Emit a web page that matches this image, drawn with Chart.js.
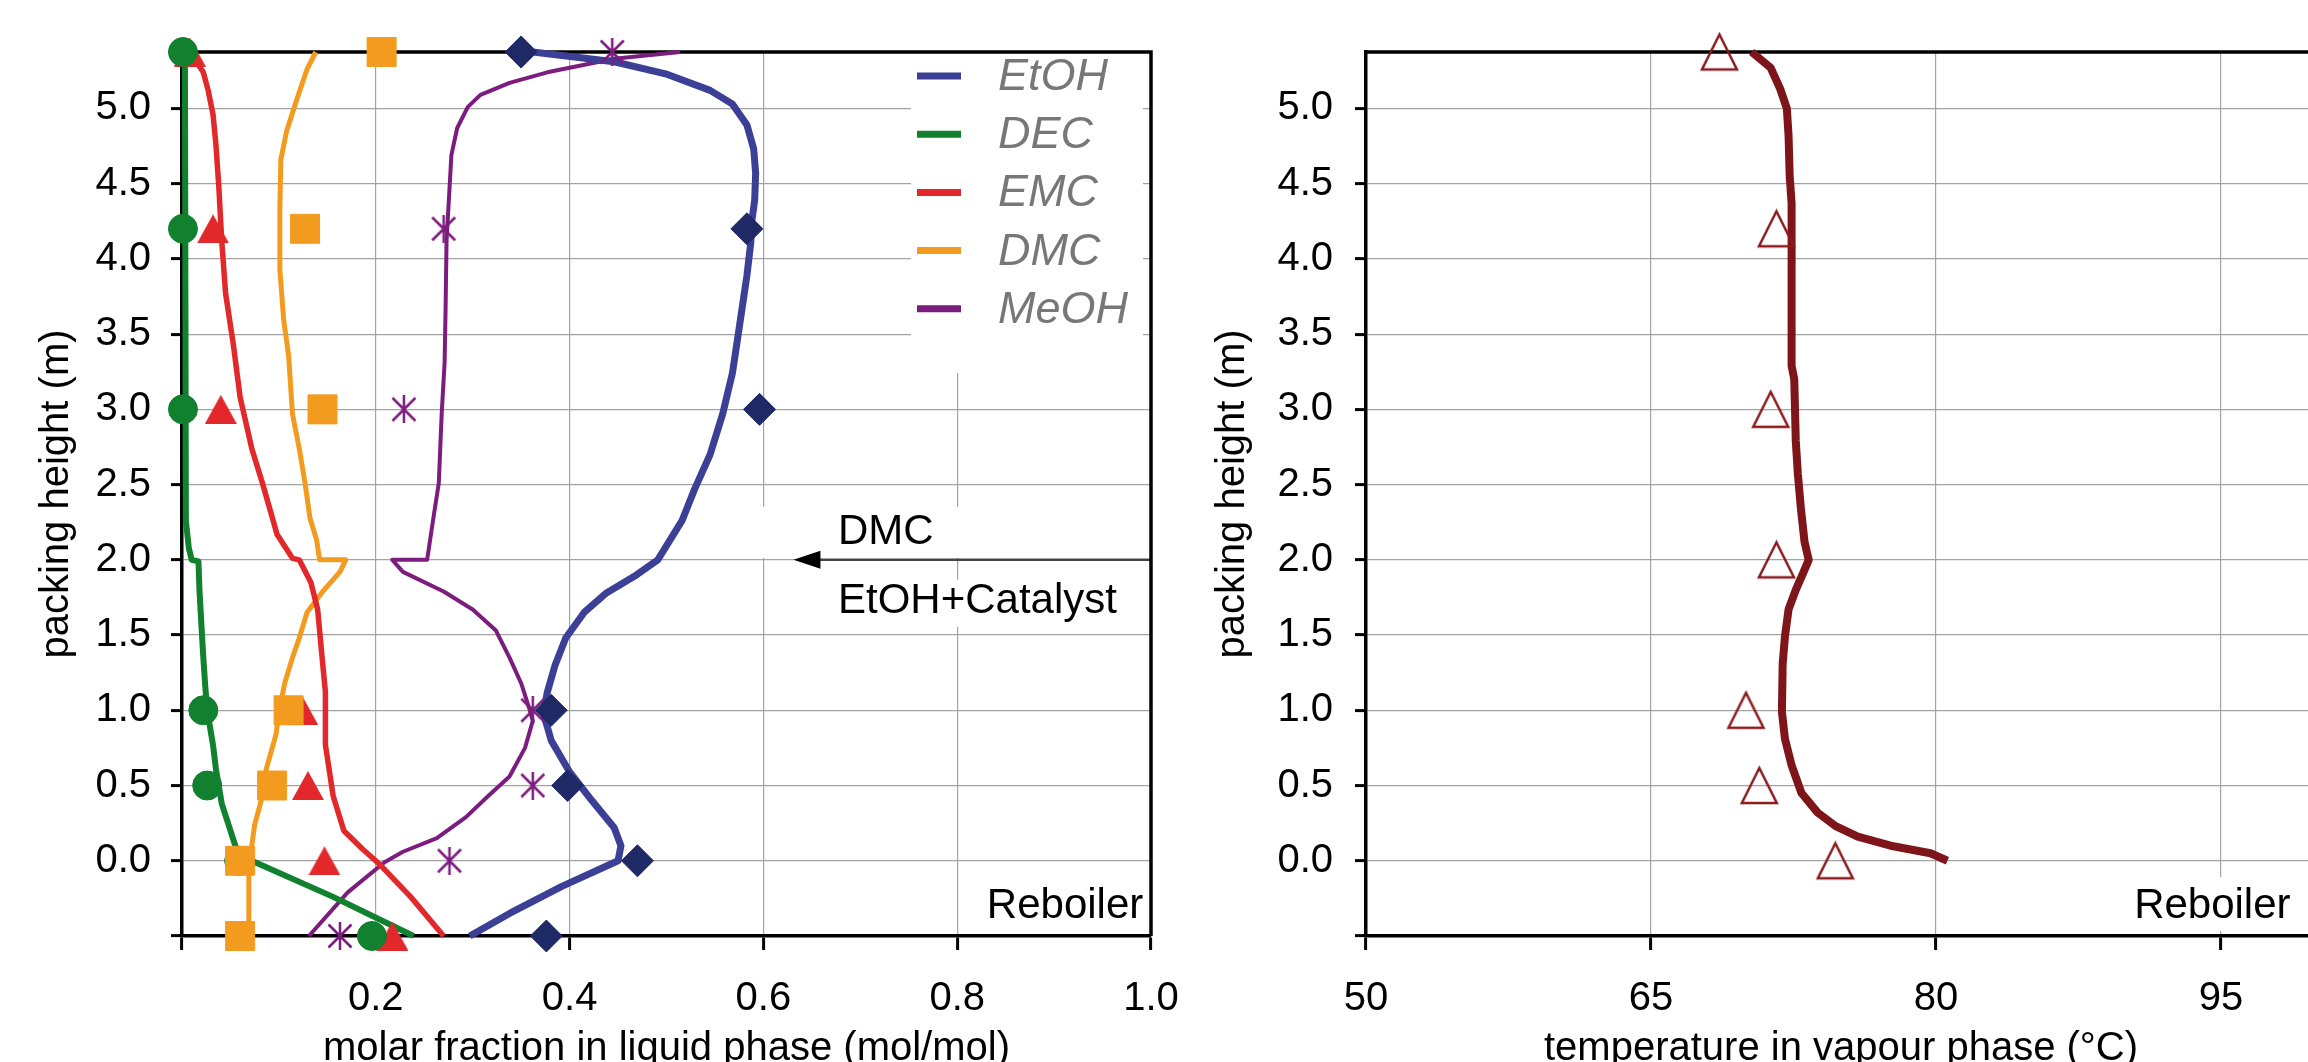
<!DOCTYPE html>
<html>
<head>
<meta charset="utf-8">
<script src="https://cdn.jsdelivr.net/npm/chart.js@4.4.0/dist/chart.umd.min.js"></script>
<style>
  html, body { margin: 0; padding: 0; background: #fff; overflow: hidden; width: 2308px; height: 1062px; }
  #liquidChart { position: absolute; left: 0; top: 0; }
  #vapourChart { position: absolute; left: 1180px; top: 0; }
</style>
</head>
<body>
<canvas id="liquidChart" width="1210" height="1090"></canvas>
<canvas id="vapourChart" width="1158" height="1090"></canvas>
<script>
// axis ticks
const heightTicks = [-0.5, 0, 0.5, 1, 1.5, 2, 2.5, 3, 3.5, 4, 4.5, 5];
const fractionTicks = [0, 0.2, 0.4, 0.6, 0.8, 1.0];
const tempTicks = [50, 65, 80, 95];
const feedHeight = 2.0;

// sample points (experiment), liquid phase
const sampleHeights = [5.375, 4.2, 3.0, 1.0, 0.5, 0.0, -0.5];
const expEtOH = [0.350, 0.583, 0.596, 0.381, 0.398, 0.470, 0.376];
const expDEC  = [0.001, 0.001, 0.001, 0.022, 0.026, 0.059, 0.196];
const expEMC  = [0.008, 0.032, 0.040, 0.124, 0.130, 0.147, 0.217];
const expDMC  = [0.206, 0.127, 0.145, 0.110, 0.093, 0.060, 0.060];
const expMeOH = [0.444, 0.270, 0.229, 0.362, 0.362, 0.276, 0.163];

// simulated profiles (liquid phase)
const simEtOH_h = [5.375, 5.31, 5.23, 5.12, 5.03, 4.89, 4.73, 4.57, 4.39, 4.25, 4.11, 3.89, 3.54, 3.24, 2.97, 2.70, 2.47, 2.26, 2.0, 1.90, 1.78, 1.65, 1.48, 1.30, 1.12, 0.98, 0.80, 0.59, 0.40, 0.22, 0.10, 0.0, -0.17, -0.35, -0.5];
const simEtOH_x = [0.362, 0.446, 0.499, 0.545, 0.568, 0.583, 0.590, 0.592, 0.591, 0.588, 0.587, 0.583, 0.575, 0.568, 0.558, 0.545, 0.529, 0.516, 0.491, 0.469, 0.438, 0.415, 0.396, 0.385, 0.377, 0.373, 0.381, 0.400, 0.423, 0.446, 0.453, 0.450, 0.392, 0.338, 0.297];

const simDEC_h = [5.375, 2.26, 2.08, 2.0, 1.99, 1.80, 1.57, 1.35, 1.16, 1.0, 0.77, 0.61, 0.38, 0.22, 0.08, 0.0, -0.24, -0.5];
const simDEC_x = [0.003, 0.004, 0.007, 0.010, 0.017, 0.018, 0.020, 0.022, 0.024, 0.026, 0.032, 0.035, 0.041, 0.049, 0.056, 0.072, 0.156, 0.239];

const simEMC_h = [5.375, 5.24, 5.12, 4.96, 4.76, 4.48, 4.12, 3.77, 3.43, 3.08, 2.74, 2.51, 2.24, 2.17, 2.01, 2.0, 1.85, 1.67, 1.39, 1.12, 0.77, 0.43, 0.20, 0.08, -0.03, -0.24, -0.5];
const simEMC_x = [0.008, 0.022, 0.027, 0.032, 0.035, 0.038, 0.041, 0.045, 0.053, 0.060, 0.072, 0.083, 0.095, 0.098, 0.114, 0.121, 0.133, 0.140, 0.144, 0.148, 0.148, 0.156, 0.167, 0.186, 0.205, 0.236, 0.270];

const simDMC_h = [5.375, 5.26, 5.05, 4.85, 4.66, 4.34, 3.93, 3.59, 3.36, 2.97, 2.74, 2.51, 2.28, 2.13, 2.0, 2.0, 1.92, 1.78, 1.65, 1.48, 1.35, 1.18, 1.02, 0.84, 0.61, 0.43, 0.24, 0.10, 0.0, -0.5];
const simDMC_x = [0.138, 0.129, 0.118, 0.108, 0.102, 0.101, 0.101, 0.105, 0.110, 0.114, 0.121, 0.127, 0.132, 0.139, 0.142, 0.169, 0.163, 0.144, 0.129, 0.121, 0.114, 0.106, 0.101, 0.097, 0.087, 0.083, 0.075, 0.072, 0.069, 0.069];

const simMeOH_h = [5.375, 5.33, 5.24, 5.17, 5.09, 5.01, 4.87, 4.69, 4.46, 4.12, 3.66, 3.31, 2.97, 2.51, 2.26, 2.0, 2.0, 1.92, 1.79, 1.67, 1.53, 1.35, 1.18, 1.02, 0.93, 0.75, 0.56, 0.43, 0.29, 0.15, 0.06, -0.01, -0.21, -0.5];
const simMeOH_x = [0.514, 0.446, 0.377, 0.338, 0.308, 0.295, 0.284, 0.278, 0.276, 0.273, 0.272, 0.271, 0.268, 0.265, 0.259, 0.253, 0.217, 0.228, 0.270, 0.300, 0.324, 0.338, 0.350, 0.358, 0.362, 0.354, 0.338, 0.316, 0.293, 0.263, 0.228, 0.209, 0.171, 0.131];

// vapour temperature
const tempSampleHeights = [5.375, 4.2, 3.0, 2.0, 1.0, 0.5, 0.0];
const expTemp = [68.6, 71.6, 71.3, 71.6, 70.0, 70.7, 74.7];
const simTemp_h = [5.375, 5.27, 5.13, 5.0, 4.82, 4.55, 4.37, 3.29, 3.20, 2.79, 2.57, 2.34, 2.12, 2.0, 1.91, 1.80, 1.67, 1.49, 1.31, 0.99, 0.81, 0.63, 0.45, 0.32, 0.23, 0.16, 0.10, 0.05, 0.0];
const simTemp_T = [70.3, 71.3, 71.8, 72.15, 72.24, 72.3, 72.4, 72.4, 72.54, 72.62, 72.73, 72.89, 73.08, 73.3, 73.0, 72.62, 72.24, 72.05, 71.93, 71.89, 72.05, 72.41, 72.92, 73.77, 74.72, 75.88, 77.61, 79.71, 80.6];

const FONT = '"Liberation Sans", Arial, sans-serif';
Chart.defaults.font.family = FONT;
Chart.defaults.font.size = 40;
Chart.defaults.color = '#000';

const pts = (hs, xs) => hs.map((h, i) => ({ x: xs[i], y: h }));

// custom marker images (centered on the point by Chart.js)
function asteriskStyle(color, size, lw) {
  const c = document.createElement('canvas');
  c.width = size; c.height = size;
  const g = c.getContext('2d');
  g.strokeStyle = color;
  g.lineWidth = lw;
  const m = lw;
  g.beginPath();
  g.moveTo(size / 2, 0); g.lineTo(size / 2, size);
  g.moveTo(m, m); g.lineTo(size - m, size - m);
  g.moveTo(size - m, m); g.lineTo(m, size - m);
  g.stroke();
  return c;
}
function triangleStyle(w, h, fill, stroke, lw) {
  const c = document.createElement('canvas');
  const pad = stroke ? Math.ceil(lw) : 0;
  c.width = w + 2 * pad; c.height = h + 2 * pad;
  const g = c.getContext('2d');
  g.beginPath();
  g.moveTo(pad, pad + h);
  g.lineTo(pad + w / 2, pad);
  g.lineTo(pad + w, pad + h);
  g.closePath();
  if (fill) { g.fillStyle = fill; g.fill(); }
  if (stroke) { g.strokeStyle = stroke; g.lineWidth = lw; g.lineJoin = 'miter'; g.stroke(); }
  return c;
}

function marker(label, data, style, radius, color) {
  return { label, data, showLine: false, pointStyle: style, pointRadius: radius,
    backgroundColor: color, borderColor: color, pointBorderWidth: 1, clip: false };
}
function profile(label, data, color, width) {
  return { label, data, showLine: true, pointRadius: 0, borderColor: color, backgroundColor: color,
    borderWidth: width, borderJoinStyle: 'round', clip: false };
}

// frame on top/right like the original plot box
const frame = {
  id: 'frame',
  beforeDatasetsDraw(chart) {
    const { ctx, chartArea: a } = chart;
    ctx.save();
    ctx.strokeStyle = '#000';
    ctx.lineWidth = 3.5;
    ctx.beginPath();
    ctx.moveTo(a.left, a.top);
    ctx.lineTo(a.right, a.top);
    ctx.lineTo(a.right, a.bottom);
    ctx.stroke();
    ctx.restore();
  }
};

// legend sitting inside the plot, top right
const insideLegend = {
  id: 'insideLegend',
  beforeDatasetsDraw(chart) {
    const { ctx, chartArea: a } = chart;
    ctx.save();
    ctx.fillStyle = '#fff';
    ctx.fillRect(a.right - 240, a.top, 232, 321);
    const items = chart.data.datasets.filter(d => d.showLine);
    items.forEach((d, i) => {
      const base = a.top + 38 + i * 58.2;
      ctx.strokeStyle = d.borderColor;
      ctx.lineWidth = 7;
      ctx.beginPath();
      ctx.moveTo(a.right - 234, base - 14);
      ctx.lineTo(a.right - 190, base - 14);
      ctx.stroke();
      ctx.fillStyle = '#777';
      ctx.font = 'italic 45px ' + FONT;
      ctx.textAlign = 'left';
      ctx.textBaseline = 'alphabetic';
      ctx.fillText(d.label, a.right - 153, base);
    });
    ctx.restore();
  }
};

// feed arrow and text
const feedNotes = {
  id: 'feedNotes',
  beforeDatasetsDraw(chart) {
    const { ctx, chartArea: a, scales: { x, y } } = chart;
    const yf = y.getPixelForValue(feedHeight);
    const tip = x.getPixelForValue(0.631);
    const tx = x.getPixelForValue(0.677);
    ctx.save();
    ctx.fillStyle = '#fff';
    ctx.fillRect(x.getPixelForValue(0.585), yf - 53, a.right - x.getPixelForValue(0.585) - 2, 51);
    ctx.fillRect(x.getPixelForValue(0.64), yf + 20, 340, 47);
    ctx.strokeStyle = '#444';
    ctx.lineWidth = 2.5;
    ctx.beginPath();
    ctx.moveTo(tip + 20, yf);
    ctx.lineTo(a.right, yf);
    ctx.stroke();
    ctx.fillStyle = '#000';
    ctx.beginPath();
    ctx.moveTo(tip, yf);
    ctx.lineTo(tip + 27, yf - 9);
    ctx.lineTo(tip + 27, yf + 9);
    ctx.closePath();
    ctx.fill();
    ctx.font = '42px ' + FONT;
    ctx.textAlign = 'left';
    ctx.textBaseline = 'alphabetic';
    ctx.fillText('DMC', tx, yf - 16);
    ctx.fillText('EtOH+Catalyst', tx, yf + 53);
    ctx.restore();
  }
};

function reboiler(xValue) {
  return {
    id: 'reboiler',
    beforeDatasetsDraw(chart) {
      const { ctx, scales: { x, y } } = chart;
      const px = x.getPixelForValue(xValue);
      const py = y.getPixelForValue(-0.381);
      ctx.save();
      ctx.font = '42px ' + FONT;
      const w = ctx.measureText('Reboiler').width;
      ctx.fillStyle = '#fff';
      ctx.fillRect(px - w - 8, py - 41, w + 14, 54);
      ctx.fillStyle = '#000';
      ctx.textAlign = 'right';
      ctx.textBaseline = 'alphabetic';
      ctx.fillText('Reboiler', px, py);
      ctx.restore();
    }
  };
}

const gridStyle = { color: '#a3a3a3', lineWidth: 1.2, tickColor: '#000', tickWidth: 3 };
const borderStyle = { color: '#000', width: 3.5 };

function heightAxis(titlePad, labelPad) {
  return {
    type: 'linear', min: -0.5, max: 5.375,
    afterBuildTicks: s => { s.ticks = heightTicks.map(v => ({ value: v })); },
    afterFit: s => { s.width = s.chart.canvas.id === 'liquidChart' ? 182 : 186; },
    ticks: { autoSkip: false, padding: labelPad, callback: v => (v === -0.5 ? '' : v.toFixed(1)) },
    grid: Object.assign({ tickLength: 11 }, gridStyle),
    border: borderStyle,
    title: { display: true, text: 'packing height (m)', padding: { top: titlePad, bottom: 0 } }
  };
}

new Chart(document.getElementById('liquidChart'), {
  type: 'scatter',
  data: {
    datasets: [
      marker('EtOH exp', pts(sampleHeights, expEtOH), 'rectRot', 16, '#1f2966'),
      marker('MeOH exp', pts(sampleHeights, expMeOH), asteriskStyle('#7c1c7e', 28, 2.5), 14, '#7c1c7e'),
      marker('DMC exp', pts(sampleHeights, expDMC), 'rect', 20.5, '#f39b1f'),
      marker('DEC exp', pts(sampleHeights, expDEC), 'circle', 14.5, '#11802f'),
      marker('EMC exp', pts(sampleHeights, expEMC), triangleStyle(32, 29, '#e2282a'), 16, '#e2282a'),
      profile('EtOH', pts(simEtOH_h, simEtOH_x), '#3b3f96', 7),
      profile('DEC', pts(simDEC_h, simDEC_x), '#11802f', 6),
      profile('EMC', pts(simEMC_h, simEMC_x), '#e2282a', 5.5),
      profile('DMC', pts(simDMC_h, simDMC_x), '#f39b1f', 5),
      profile('MeOH', pts(simMeOH_h, simMeOH_x), '#7c1c7e', 4)
    ]
  },
  options: {
    responsive: false,
    animation: false,
    events: [],
    layout: { padding: { top: 52, right: 59, left: 0, bottom: 0 } },
    plugins: { legend: { display: false }, tooltip: { enabled: false } },
    scales: {
      x: {
        type: 'linear', min: 0, max: 1,
        afterBuildTicks: s => { s.ticks = fractionTicks.map(v => ({ value: v })); },
        afterFit: s => { s.height = 154; },
        ticks: { autoSkip: false, maxRotation: 0, padding: 25, callback: v => (v === 0 ? '' : v.toFixed(1)) },
        grid: Object.assign({ tickLength: 14 }, gridStyle),
        border: borderStyle,
        title: { display: true, text: 'molar fraction in liquid phase (mol/mol)', padding: { top: 0, bottom: 17 } }
      },
      y: heightAxis(33, 20)
    }
  },
  plugins: [insideLegend, feedNotes, reboiler(0.992), frame]
});

new Chart(document.getElementById('vapourChart'), {
  type: 'scatter',
  data: {
    datasets: [
      marker('T exp', pts(tempSampleHeights, expTemp), triangleStyle(35, 35, null, '#8b1a1c', 2.5), 19, '#8b1a1c'),
      profile('T sim', pts(simTemp_h, simTemp_T), '#7e151a', 8)
    ]
  },
  options: {
    responsive: false,
    animation: false,
    events: [],
    layout: { padding: { top: 52, right: 22, left: 0, bottom: 0 } },
    plugins: { legend: { display: false }, tooltip: { enabled: false } },
    scales: {
      x: {
        type: 'linear', min: 50, max: 100,
        afterBuildTicks: s => { s.ticks = tempTicks.map(v => ({ value: v })); },
        afterFit: s => { s.height = 154; },
        ticks: { autoSkip: false, maxRotation: 0, padding: 25 },
        grid: Object.assign({ tickLength: 14 }, gridStyle),
        border: borderStyle,
        title: { display: true, text: 'temperature in vapour phase (°C)', padding: { top: 0, bottom: 17 } }
      },
      y: heightAxis(29, 22)
    }
  },
  plugins: [reboiler(98.66), frame]
});
</script>
</body>
</html>
